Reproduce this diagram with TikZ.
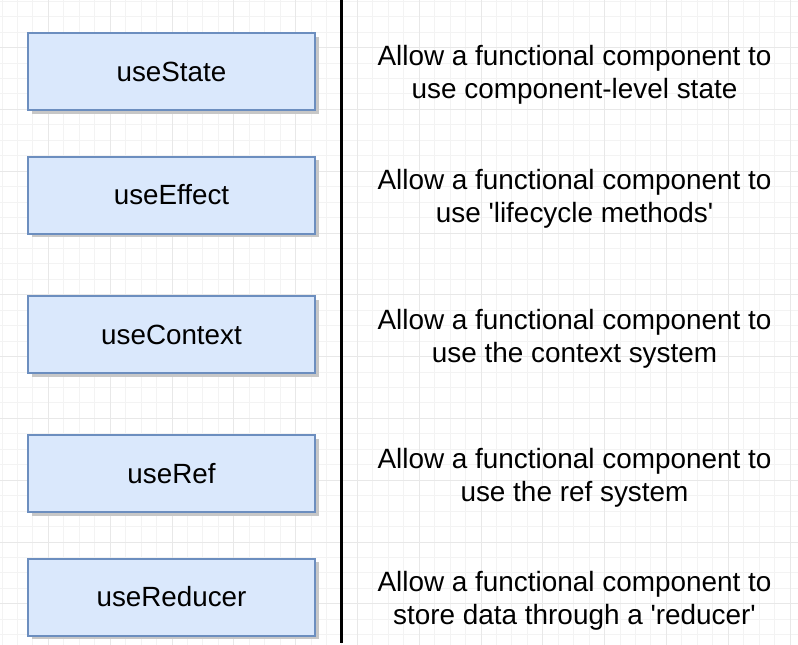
\documentclass[tikz,border=0pt]{standalone}
\usepackage{fontspec}
\setmainfont{Liberation Sans}[Ligatures=TeXOff]
\definecolor{boxfill}{HTML}{DAE8FC}
\definecolor{boxline}{HTML}{6C8EBF}
\definecolor{gridminor}{HTML}{F3F3F3}
\definecolor{gridmajor}{HTML}{E8E8E8}
\tikzset{
  hookbox/.style={draw=boxline, fill=boxfill, line width=2pt, minimum width=287pt, minimum height=77pt, inner sep=0pt, font=\fontsize{27.8}{33}\selectfont},
  desc/.style={align=center, inner sep=0pt, font=\fontsize{27.9}{33}\selectfont},
}
\begin{document}
\begin{tikzpicture}[x=1pt,y=-1pt]
\useasboundingbox (0,0) rectangle (798,645);
\fill[white] (0,0) rectangle (798,645);
% grid
\foreach \i in {-23,...,29} {
  \pgfmathsetmacro{\xx}{357.3+15.45*\i}
  \draw[gridminor, line width=0.8pt] (\xx,0) -- (\xx,645);
}
\foreach \j in {-7,...,35} {
  \pgfmathsetmacro{\yy}{109.3+15.45*\j}
  \draw[gridminor, line width=0.8pt] (0,\yy) -- (798,\yy);
}
\foreach \i in {-24,-20,...,28} {
  \pgfmathsetmacro{\xx}{357.3+15.45*\i}
  \draw[gridmajor, line width=0.8pt] (\xx,0) -- (\xx,645);
}
\foreach \j in {-8,-4,...,32} {
  \pgfmathsetmacro{\yy}{109.3+15.45*\j}
  \draw[gridmajor, line width=0.8pt] (0,\yy) -- (798,\yy);
}
% shadows
\foreach \cy in {71.5,195,334.5,473.5,597} {
  \fill[black!22] (31.5,\cy-35) rectangle (319,\cy+42);
}
% boxes
\node[hookbox] (s) at (171.5,71.5) {useState};
\node[hookbox] (e) at (171.5,195) {useEffect};
\node[hookbox] (c) at (171.5,334.5) {useContext};
\node[hookbox] (r) at (171.5,473.5) {useRef};
\node[hookbox] (d) at (171.5,597) {useReducer};
% divider
\coordinate (top) at (341,0);
\coordinate (bot) at (341,643);
\draw[black, line width=3pt] (top) -- (bot);
% descriptions
\node[desc] (ds) at (574.5,75) {Allow a functional component to\\use component-level state};
\node[desc] (de) at (574.5,199) {Allow a functional component to\\use 'lifecycle methods'};
\node[desc] (dc) at (574.5,338.5) {Allow a functional component to\\use the context system};
\node[desc] (dr) at (574.5,477.5) {Allow a functional component to\\use the ref system};
\node[desc] (dd) at (574.5,600.5) {Allow a functional component to\\store data through a 'reducer'};
\end{tikzpicture}
\end{document}
